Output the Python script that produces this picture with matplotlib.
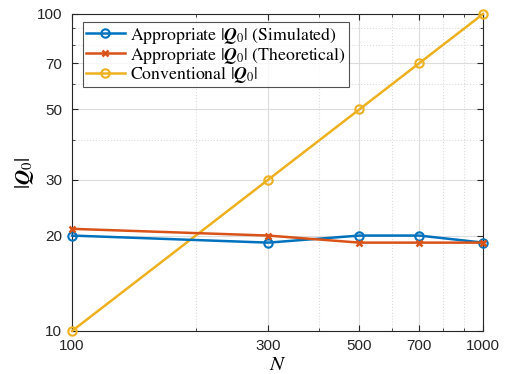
import matplotlib
matplotlib.use("Agg")
import matplotlib.pyplot as plt
from matplotlib.ticker import FixedLocator, FixedFormatter, LogLocator, NullFormatter

plt.rcParams['mathtext.fontset'] = 'stix'
plt.rcParams['font.family'] = ['Liberation Sans', 'DejaVu Sans']

N = [100, 300, 500, 700, 1000]
q_sim = [20, 19, 20, 20, 19]
q_theo = [21, 20, 19, 19, 19]
q_conv = [10, 30, 50, 70, 100]
xticks = [100, 300, 500, 700, 1000]
yticks = [10, 20, 30, 50, 70, 100]

fig = plt.figure(figsize=(5.09, 3.74), dpi=100)
ax = fig.add_axes([0.1415, 0.115, 0.8075, 0.8476])

c1, c2, c3 = '#0072BD', '#D95319', '#EDB120'
ax.plot(N, q_sim, '-o', color=c1, lw=1.8, ms=6, mfc='none', mew=1.5, clip_on=False, zorder=4,
        label=r'Appropriate $|\mathbfit{Q}_0|$ (Simulated)')
ax.plot(N, q_theo, '-x', color=c2, lw=1.8, ms=5, mew=1.8, clip_on=False, zorder=5,
        label=r'Appropriate $|\mathbfit{Q}_0|$ (Theoretical)')
ax.plot(N, q_conv, '-o', color=c3, lw=1.8, ms=6, mfc='none', mew=1.5, clip_on=False, zorder=3,
        label=r'Conventional $|\mathbfit{Q}_0|$')

ax.set_xscale('log')
ax.set_yscale('log')
ax.set_xlim(100, 1000)
ax.set_ylim(10, 100)

ax.xaxis.set_major_locator(FixedLocator(xticks))
ax.xaxis.set_major_formatter(FixedFormatter([str(v) for v in xticks]))
ax.yaxis.set_major_locator(FixedLocator(yticks))
ax.yaxis.set_major_formatter(FixedFormatter([str(v) for v in yticks]))
ax.xaxis.set_minor_locator(LogLocator(base=10, subs=range(1, 10)))
ax.yaxis.set_minor_locator(LogLocator(base=10, subs=range(1, 10)))
ax.xaxis.set_minor_formatter(NullFormatter())
ax.yaxis.set_minor_formatter(NullFormatter())

ax.tick_params(which='both', direction='in', top=True, right=True, labelsize=11, colors='#262626')
ax.tick_params(which='major', length=4)
ax.tick_params(which='minor', length=2)
ax.tick_params(axis='x', which='major', pad=6)
ax.tick_params(axis='y', which='major', pad=7)

ax.grid(True, which='major', color='#dcdcdc', lw=0.8, ls='-')
ax.grid(True, which='minor', color='#dcdcdc', lw=0.8, ls=':')
ax.set_axisbelow(True)
for s in ax.spines.values():
    s.set_color('#262626')
    s.set_linewidth(0.8)

ax.set_xlabel(r'$N$', fontsize=15, labelpad=1)
ax.set_ylabel(r'$|\mathbfit{Q}_0|$', fontsize=15)
ax.yaxis.set_label_coords(-0.088, 0.5)

leg = ax.legend(loc='upper left', bbox_to_anchor=(0.027, 0.975),
                prop={'family': 'STIXGeneral', 'size': 12.8},
                frameon=True, fancybox=False, edgecolor='#262626',
                handlelength=2.2, handletextpad=0.3, borderpad=0.15,
                labelspacing=-0.05, borderaxespad=0.0)
leg.get_frame().set_linewidth(0.8)
leg.set_zorder(10)

fig.savefig('out.png', dpi=100)
